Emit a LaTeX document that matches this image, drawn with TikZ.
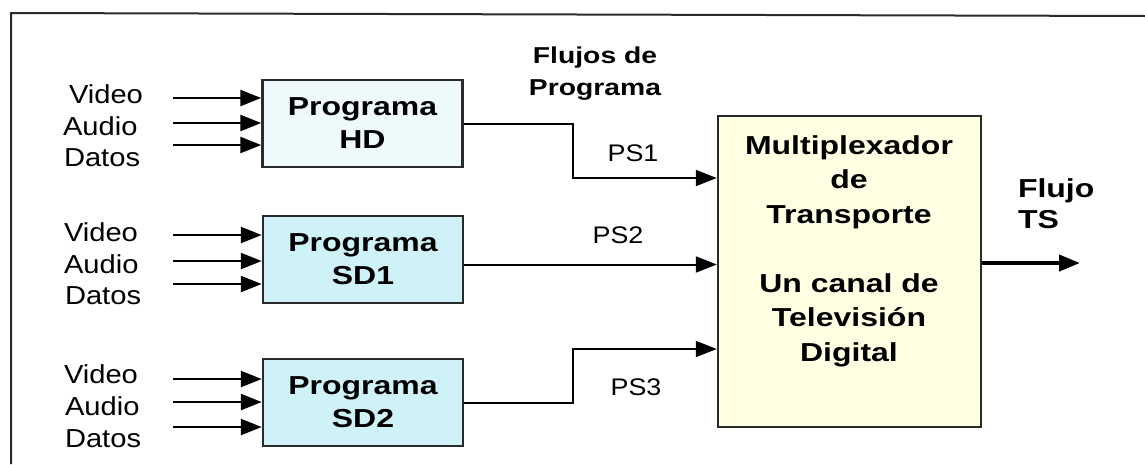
\documentclass[tikz,border=0pt]{standalone}
\usepackage{fontspec}
\setmainfont{Liberation Sans}[FakeStretch=1.12]
\newfontfamily\negrita{Liberation Sans}[FakeStretch=1.23]
\usetikzlibrary{arrows.meta}

\definecolor{azulhd}{HTML}{EEF9FC}
\definecolor{azulsd}{HTML}{CFF2F8}
\definecolor{amarillo}{HTML}{FFFFE4}
\definecolor{borde}{HTML}{2A2A2A}

\begin{document}
\begin{tikzpicture}[x=1pt,y=-1pt,line width=2pt,
  flecha/.style={-{Triangle[length=21pt,width=16pt]}},
  prog/.style={draw=borde,line width=2.5pt,minimum width=200pt,minimum height=87pt,align=center,
    font=\fontsize{26}{33}\negrita\bfseries},
  entrada/.style={anchor=base west,font=\fontsize{26}{31}\selectfont,inner sep=0pt},
  etiq/.style={font=\fontsize{24}{28}\selectfont}]
  \useasboundingbox (0,0) rectangle (1145,464);
  % marco
  \draw[borde] (1145,16) -- (11,13) -- (11,464);
  % bloques de programa
  \node[prog,fill=azulhd] (hd) at (362.5,123.5) {Programa\\HD};
  \node[prog,fill=azulsd] (sd1) at (363,259.5) {Programa\\SD1};
  \node[prog,fill=azulsd] (sd2) at (363,402.5) {Programa\\SD2};
  % multiplexador
  \node[draw=borde,line width=2.5pt,fill=amarillo,minimum width=263pt,minimum height=311pt] (mux) at (849.5,271.5) {};
  \node[align=center,font=\fontsize{26}{34.5}\negrita\bfseries] (muxtxt) at (849,251)
    {Multiplexador\\de\\Transporte\\[34.5pt]Un canal de\\Televisión\\Digital};
  % entradas: video, audio, datos
  \foreach \b/\yv/\ya/\yd in {hd/98/123/145, sd1/235/261/284, sd2/379/402/427}{
    \coordinate (\b v) at (173,\yv);
    \coordinate (\b a) at (173,\ya);
    \coordinate (\b d) at (173,\yd);
    \draw[flecha,line width=2.5pt] (\b v) -- (\b v -| \b.west);
    \draw[flecha,line width=2.5pt] (\b a) -- (\b a -| \b.west);
    \draw[flecha,line width=2.5pt] (\b d) -- (\b d -| \b.west);
  }
  \node[entrada] (hdvt) at (68,103) {Video};
  \node[entrada] (hdat) at (62,135) {Audio};
  \node[entrada] (hddt) at (63,166) {Datos};
  \node[entrada] (sd1vt) at (63,241) {Video};
  \node[entrada] (sd1at) at (63,273) {Audio};
  \node[entrada] (sd1dt) at (64,304) {Datos};
  \node[entrada] (sd2vt) at (63,383) {Video};
  \node[entrada] (sd2at) at (64,415) {Audio};
  \node[entrada] (sd2dt) at (64,447) {Datos};
  % flujos de programa
  \node[align=center,font=\fontsize{23}{32}\negrita\bfseries] (flujos) at (595,74) {Flujos de\\Programa};
  \coordinate (c1) at (573,178);
  \coordinate (c3) at (573,349);
  \draw[flecha] (hd.east) -| (c1) -- (c1 -| mux.west);
  \draw[flecha] ([yshift=-5pt]sd1.east) -- ([yshift=-5pt]sd1.east -| mux.west);
  \draw[flecha] (sd2.east) -| (c3) -- (c3 -| mux.west);
  \node[etiq] (ps1) at (633,153) {PS1};
  \node[etiq] (ps2) at (618,235) {PS2};
  \node[etiq] (ps3) at (636,387) {PS3};
  % salida
  \coordinate (ts) at (1080,263);
  \draw[flecha,line width=4pt] (ts -| mux.east) -- (ts);
  \node[anchor=west,align=left,font=\fontsize{26}{31}\negrita\bfseries,inner sep=0pt] (flujo) at (1017,204) {Flujo\\TS};
\end{tikzpicture}
\end{document}
